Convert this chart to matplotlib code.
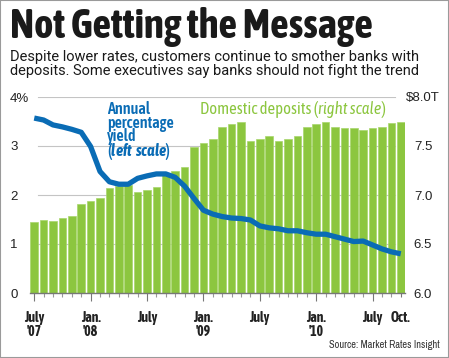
import matplotlib
matplotlib.use("Agg")
import matplotlib.pyplot as plt
from matplotlib import font_manager
from matplotlib.patches import Rectangle

# ── DATA ──────────────────────────────────────────────────────────────────────

months = list(range(40))   # July 2007 .. Oct 2010

deposits = [6.72, 6.75, 6.735, 6.765, 6.79, 6.91, 6.94, 6.97, 7.07, 7.09,
            7.10, 7.03, 7.05, 7.08, 7.20, 7.25, 7.29, 7.49, 7.53, 7.57,
            7.69, 7.72, 7.745, 7.55, 7.575, 7.60, 7.55, 7.575, 7.60, 7.69,
            7.72, 7.75, 7.69, 7.685, 7.68, 7.665, 7.68, 7.69, 7.73, 7.74]

rates = [3.57, 3.53, 3.43, 3.39, 3.34, 3.28, 2.99, 2.48, 2.27, 2.22,
         2.22, 2.34, 2.39, 2.43, 2.43, 2.36, 2.18, 1.93, 1.69, 1.61,
         1.56, 1.53, 1.52, 1.49, 1.37, 1.33, 1.31, 1.27, 1.27, 1.23,
         1.20, 1.20, 1.15, 1.10, 1.05, 1.06, 0.98, 0.90, 0.84, 0.80]

x_tick_pos    = [0, 6, 12, 18, 24, 30, 36, 39]
x_tick_labels = ["July\n'07", "Jan.\n'08", "July", "Jan.\n'09",
                 "July", "Jan.\n'10", "July", "Oct."]

left_ticks   = [0, 1, 2, 3, 4]
left_labels  = ["0", "1", "2", "3", "4%"]
right_ticks  = [6.0, 6.5, 7.0, 7.5, 8.0]
right_labels = ["6.0", "6.5", "7.0", "7.5", "$8.0T"]

# ── STYLE ─────────────────────────────────────────────────────────────────────

W, H  = 449, 358
GREEN = "#8cc63f"
BLUE  = "#0a6cb5"
GRID  = "#c4c4c4"

names = {f.name for f in font_manager.fontManager.ttflist}


def pick(*options):
    for o in options:
        if o in names:
            return o
    return "Roboto"


COND_BOLD = pick("Asap Condensed", "Barlow Condensed", "Archivo Narrow")
ANN_FONT  = pick("Asap Condensed", "Archivo Narrow")
NARROW    = pick("Archivo Narrow", "Asap Condensed")
PLAIN     = "Liberation Sans"

plt.rcParams["mathtext.fontset"] = "custom"
plt.rcParams["mathtext.it"] = f"{ANN_FONT}:italic:semibold"
plt.rcParams["mathtext.rm"] = f"{ANN_FONT}:semibold"

fig = plt.figure(figsize=(W / 100, H / 100), dpi=100)


def fx(x):
    return x / W


def fy(y):
    return 1 - y / H


# axes box: x 30..405 px, y 97..293 px
bar_ax  = fig.add_axes([fx(30), fy(293), (405 - 30) / W, (293 - 97) / H])
line_ax = bar_ax.twinx()

# ── BARS (right scale) ────────────────────────────────────────────────────────

bar_ax.bar(months, deposits, width=0.82,
           color=GREEN, edgecolor="#a8d66c", linewidth=0.5, zorder=2)
bar_ax.set_ylim(6.0, 8.0)
bar_ax.set_xlim(-0.45, 39.45)

for v in right_ticks[1:]:
    bar_ax.axhline(v, xmin=8 / 375, xmax=365 / 375, color=GRID, lw=0.8, zorder=0.5)

bar_ax.yaxis.tick_right()
bar_ax.set_yticks(right_ticks)
bar_ax.set_yticklabels(right_labels, family=PLAIN, fontsize=9.5, color="#222222")
bar_ax.tick_params(axis="y", length=0, pad=13)
for lab in bar_ax.get_yticklabels():
    lab.set_horizontalalignment("center")

bar_ax.set_xticks(x_tick_pos)
bar_ax.set_xticklabels(x_tick_labels, family=COND_BOLD, fontweight="bold",
                       fontsize=10, color="#222222", linespacing=1.0)
bar_ax.set_xticks(months, minor=True)
bar_ax.tick_params(axis="x", which="major", length=6, width=0.8, color="#777777", pad=7)
bar_ax.tick_params(axis="x", which="minor", length=3, width=0.8, color="#999999")
bar_ax.xaxis.get_major_ticks()[-1].tick1line.set_markersize(3)

for s in ["top", "left", "right"]:
    bar_ax.spines[s].set_visible(False)
bar_ax.spines["bottom"].set_color("#777777")
bar_ax.spines["bottom"].set_linewidth(1.0)
bar_ax.spines["bottom"].set_zorder(3)

# ── LINE (left scale) ─────────────────────────────────────────────────────────

line_ax.plot(months, rates, color=BLUE, lw=3.8,
             solid_capstyle="butt", solid_joinstyle="round", zorder=3)
line_ax.set_ylim(0, 4)
line_ax.yaxis.tick_left()
line_ax.set_yticks(left_ticks)
line_ax.set_yticklabels(left_labels, family=PLAIN, fontsize=9.5, color="#222222")
line_ax.tick_params(axis="y", length=0, pad=14.4)
for lab in line_ax.get_yticklabels():
    lab.set_horizontalalignment("left")
for s in line_ax.spines.values():
    s.set_visible(False)

# ── TEXT ──────────────────────────────────────────────────────────────────────

fig.text(fx(10), fy(38), "Not Getting the Message", family=COND_BOLD,
         fontweight="bold", fontsize=29.5, color="#1a1a1a", va="baseline")
fig.text(fx(10), fy(61), "Despite lower rates, customers continue to smother banks with",
         family="Roboto", fontsize=10.5, color="#1a1a1a", va="baseline")
fig.text(fx(10), fy(75), "deposits. Some executives say banks should not fight the trend",
         family="Roboto", fontsize=10.5, color="#1a1a1a", va="baseline")

# blue label: one block, italic part through mathtext
fig.text(fx(107), fy(101), "Annual\npercentage\nyield\n($\\mathit{left\\ scale}$)",
         family=ANN_FONT, fontweight="semibold", fontsize=11.5, color=BLUE,
         va="top", linespacing=0.74)

# green label: pieces chained on one baseline
prev = None
for txt, ital in [("Domestic deposits (", False), ("right scale", True), (")", False)]:
    kw = dict(family=ANN_FONT, fontsize=12, color=GREEN,
              style="italic" if ital else "normal")
    if prev is None:
        prev = fig.text(fx(200), fy(114), txt, va="baseline", **kw)
    else:
        prev = line_ax.annotate(txt, xy=(1, 0), xycoords=prev, va="bottom",
                                ha="left", annotation_clip=False, **kw)

fig.text(fx(440), fy(348), "Source: Market Rates Insight", family=NARROW,
         fontsize=7.5, color="#333333", ha="right", va="baseline")

fig.patches.append(Rectangle((0, 0), 1, 1, transform=fig.transFigure, fill=False,
                             edgecolor="#9a9a9a", lw=1.5))

fig.savefig("out.png", dpi=100)
